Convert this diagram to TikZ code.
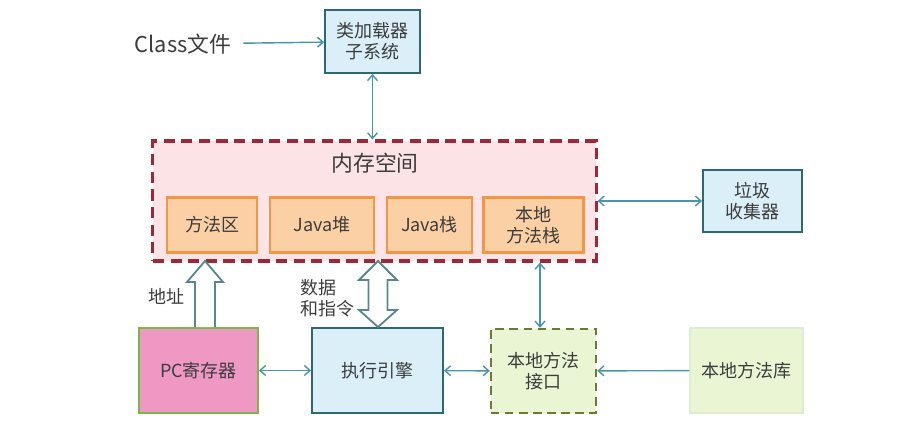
\documentclass[tikz,border=0pt]{standalone}
\usepackage{fontspec}
\setmainfont{Noto Sans CJK SC}
\definecolor{linkteal}{RGB}{72, 148, 168}
\definecolor{textgray}{RGB}{60, 60, 60}
\definecolor{sysblue}{RGB}{218, 239, 247}
\definecolor{sysborder}{RGB}{45, 105, 115}
\definecolor{mempink}{RGB}{252, 228, 230}
\definecolor{memborder}{RGB}{158, 40, 55}
\definecolor{areaorange}{RGB}{252, 208, 165}
\definecolor{areaborder}{RGB}{244, 150, 70}
\definecolor{pcpink}{RGB}{240, 152, 196}
\definecolor{pcgreen}{RGB}{120, 185, 70}
\definecolor{nativegreen}{RGB}{234, 245, 212}
\definecolor{nativeolive}{RGB}{110, 122, 50}
\definecolor{libborder}{RGB}{224, 237, 204}
\usetikzlibrary{arrows.meta, positioning, calc}
\tikzset{
  jvmnode/.style={draw, line width=1.3pt, inner sep=2pt, align=center, text=textgray, font=\fontsize{12.8}{15}\selectfont},
  sysnode/.style={jvmnode, fill=sysblue, draw=sysborder},
  areanode/.style={jvmnode, fill=areaorange, draw=areaborder, line width=1.5pt, minimum height=1.375cm},
  pcnode/.style={jvmnode, fill=pcpink, draw=pcgreen, minimum width=2.975cm, minimum height=2.125cm},
  nativenode/.style={jvmnode, fill=nativegreen, draw=nativeolive, line width=1.7pt, dash pattern=on 6pt off 4pt, minimum width=2.625cm, minimum height=2.1cm},
  libnode/.style={jvmnode, fill=nativegreen, draw=libborder, line width=0.8pt, minimum width=2.825cm, minimum height=2.125cm},
  memnode/.style={draw=memborder, fill=mempink, line width=2.2pt, dash pattern=on 8pt off 4.5pt, minimum width=11.075cm, minimum height=3cm},
  plainlabel/.style={text=textgray, font=\fontsize{12.8}{15}\selectfont, inner sep=0pt},
  link/.style={-{Straight Barb[length=4pt,width=7pt]}, line width=1pt, linkteal},
  duallink/.style={{Straight Barb[length=4pt,width=7pt]}-{Straight Barb[length=4pt,width=7pt]}, line width=1pt, linkteal},
  hollowarrow/.style={draw=sysborder!80, fill=white, line width=1.3pt, line join=miter},
}

\begin{document}
\begin{tikzpicture}[x=0.025cm, y=-0.025cm]
  \useasboundingbox (0,0) rectangle (906,432);
  % top row
  \node[plainlabel, font=\fontsize{15.5}{18}\selectfont] (cls) at (183,44) {Class文件};
  \node[sysnode, minimum width=2.375cm, minimum height=1.575cm] (ldr) at (372.5,41.5) {类加载器\\子系统};
  % memory space
  \node[memnode] (mem) at (374.5,201) {};
  \node[plainlabel, font=\fontsize{15.5}{18}\selectfont] (memt) at (375,163) {内存空间};
  \node[areanode, minimum width=2.25cm] (ma) at (212,225) {方法区};
  \node[areanode, minimum width=2.6cm] (heap) at (322,225) {Java堆};
  \node[areanode, minimum width=2.125cm] (jstk) at (429.5,225) {Java栈};
  \node[areanode, minimum width=2.5cm] (nstk) at (533.5,225) {本地\\方法栈};
  \node[sysnode, minimum width=2.475cm, minimum height=1.55cm] (gc) at (752.5,201) {垃圾\\收集器};
  % bottom row
  \node[pcnode] (pc) at (198.5,370.5) {PC寄存器};
  \node[sysnode, minimum width=3.275cm, minimum height=2.125cm] (exe) at (377.5,370.5) {执行引擎};
  \node[nativenode] (nif) at (543.5,371) {本地方法\\接口};
  \node[libnode] (lib) at (746.5,370.5) {本地方法库};
  \node[plainlabel] (addr) at (166,296) {地址};
  \node[plainlabel, align=left, anchor=west] (data) at (300,298) {数据\\和指令};
  % connectors
  \draw[link, shorten <=0.3cm] (cls) -- (ldr);
  \draw[duallink] (ldr) -- (ldr |- mem.north);
  \draw[duallink] (mem.east |- gc) -- (gc);
  \coordinate (nlink) at (540,0);
  \draw[duallink] (nlink |- mem.south) -- (nlink |- nif.north);
  \draw[duallink] (pc) -- (exe);
  \draw[duallink] (exe) -- (nif);
  \draw[link] (lib) -- (nif);
  % hollow arrows
  \draw[hollowarrow] (195,327) -- (195,282) -- (187,282) -- (205,261) -- (223,282) -- (215,282) -- (215,327);
  \draw[hollowarrow] (378,261) -- (397,280) -- (387.5,280) -- (387.5,310) -- (397,310) -- (378,327)
    -- (359,310) -- (368.5,310) -- (368.5,280) -- (359,280) -- cycle;
\end{tikzpicture}
\end{document}
